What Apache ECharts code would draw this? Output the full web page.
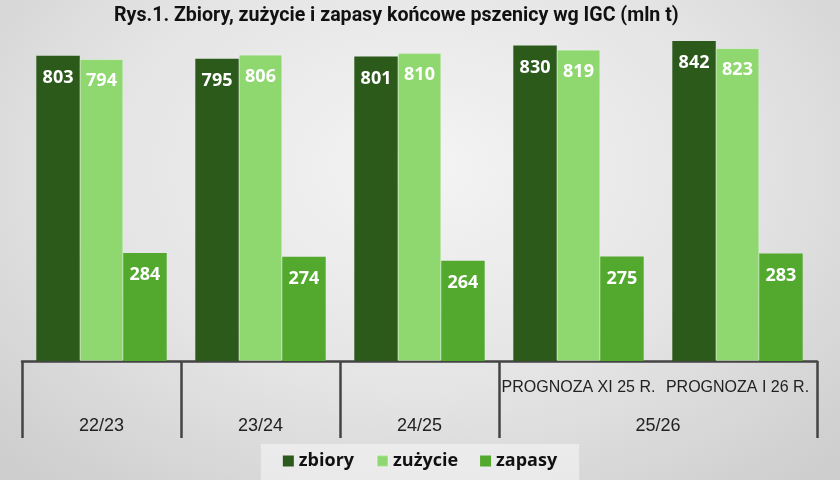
<!DOCTYPE html>
<html>
<head>
<meta charset="utf-8">
<script src="https://cdn.jsdelivr.net/npm/echarts@6/dist/echarts.min.js"></script>
<style>
html,body{margin:0;padding:0;}
#c{width:840px;height:480px;background:radial-gradient(ellipse 70% 85% at 50% 35%, #f4f4f4 0%, #e4e4e4 55%, #cecece 100%);}
</style>
</head>
<body>
<div id="c"></div>
<script>
const categories = ['22/23', '23/24', '24/25', 'PROGNOZA XI 25 R.', 'PROGNOZA I 26 R.'];
const seasonLabels = ['22/23', '23/24', '24/25', '25/26'];
const seasonSpans = [1, 1, 1, 2];
const zbiory = [803, 795, 801, 830, 842];
const zuzycie = [794, 806, 810, 819, 823];
const zapasy = [284, 274, 264, 275, 283];

const bounds = [0];
seasonSpans.forEach(s => bounds.push(bounds[bounds.length - 1] + s));
const mids = seasonSpans.map((s, i) => bounds[i] + s / 2);

const chart = echarts.init(document.getElementById('c'), null, {renderer: 'canvas'});
const labelStyle = {
  show: true, position: 'insideTop', distance: 13,
  color: '#ffffff', fontSize: 18, fontWeight: 'bold', fontFamily: 'Open Sans'
};
chart.setOption({
  backgroundColor: 'transparent',
  animation: false,
  title: {
    text: 'Rys.1. Zbiory, zużycie i zapasy końcowe pszenicy wg IGC (mln t)',
    left: 109, top: 1,
    textStyle: {fontSize: 19.6, fontWeight: 'bold', color: '#111', fontFamily: 'Roboto'}
  },
  legend: {
    data: ['zbiory', 'zużycie', 'zapasy'],
    top: 444, left: 'center',
    icon: 'rect', itemWidth: 11, itemHeight: 11, itemGap: 22,
    padding: [8, 22, 10, 22],
    backgroundColor: 'rgba(245,245,245,0.6)',
    textStyle: {fontSize: 18, fontWeight: 'bold', color: '#111', fontFamily: 'Open Sans'}
  },
  grid: {left: 22, right: 23, top: 17, bottom: 119, containLabel: false},
  xAxis: [
    {
      type: 'category', data: categories, position: 'bottom',
      axisLine: {show: true, lineStyle: {color: '#444', width: 2.5}},
      axisTick: {show: false},
      axisLabel: {
        interval: 0, margin: 19, fontSize: 16, color: '#222', fontFamily: 'Liberation Sans',
        formatter: (v, i) => i >= 3 ? v : ''
      }
    },
    {
      type: 'value', min: 0, max: bounds[bounds.length - 1], position: 'bottom',
      axisLine: {show: false},
      splitLine: {show: false},
      axisTick: {show: true, customValues: bounds, length: 77, lineStyle: {color: '#444', width: 2.5}},
      axisLabel: {
        customValues: mids, margin: 56, fontSize: 18, color: '#222', fontFamily: 'Liberation Sans',
        formatter: (v) => { const i = mids.indexOf(v); return i >= 0 ? seasonLabels[i] : ''; }
      }
    }
  ],
  yAxis: {type: 'value', min: 0, max: 905, show: false, splitLine: {show: false}},
  series: [
    {name: 'zbiory', type: 'bar', xAxisIndex: 0, data: zbiory, barGap: '0%', barCategoryGap: '18%',
      itemStyle: {color: '#2b5a1b'}, label: labelStyle},
    {name: 'zużycie', type: 'bar', xAxisIndex: 0, data: zuzycie, barGap: '0%', barCategoryGap: '18%',
      itemStyle: {color: '#8fd870', borderColor: 'rgba(255,255,255,0.25)', borderWidth: 1}, label: labelStyle},
    {name: 'zapasy', type: 'bar', xAxisIndex: 0, data: zapasy, barGap: '0%', barCategoryGap: '18%',
      itemStyle: {color: '#52a92e'}, label: labelStyle}
  ]
});
</script>
</body>
</html>
